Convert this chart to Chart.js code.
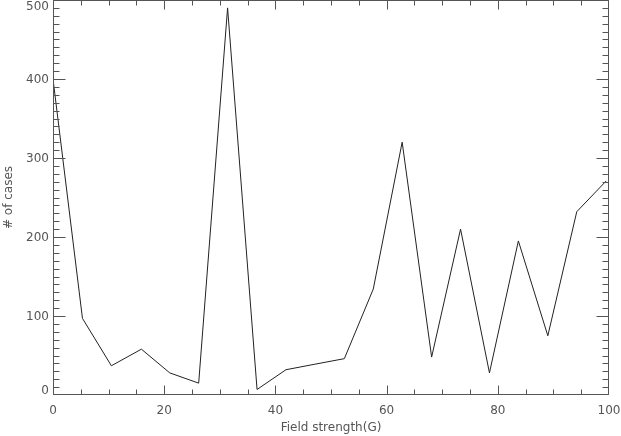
<!DOCTYPE html>
<html>
<head>
<meta charset="utf-8">
<script src="https://cdn.jsdelivr.net/npm/chart.js@4"></script>
<style>
  html, body { margin: 0; padding: 0; background: #fff; }
  canvas { display: block; }
</style>
</head>
<body>
<canvas id="myChart" width="621" height="436"></canvas>
<script>
// values
var fieldStrength = [0, 5.3, 10.5, 15.9, 21.0, 26.2, 31.4, 36.7, 41.9, 47.1, 52.4, 57.6, 62.8, 68.1, 73.3, 78.5, 83.7, 89.0, 94.2, 99.5];
var cases = [400, 97, 37, 58, 28, 15, 490, 7, 32, 39, 46, 134, 320, 48, 210, 28, 195, 75, 232, 271];

var xTickLabels = [0, 20, 40, 60, 80, 100];
var yTickLabels = [0, 100, 200, 300, 400, 500];
var xMinorStep = 5;
var yMinorStep = 10;

var points = [];
for (var i = 0; i < fieldStrength.length; i++) {
    points.push({ x: fieldStrength[i], y: cases[i] });
}

var axisColor = '#555';
var textColor = '#555';
var fontFamily = '"DejaVu Sans", sans-serif';

// IDL style frame: box with inward ticks on all four sides, y labels drawn here
var idlFrame = {
    id: 'idlFrame',
    afterDraw: function (chart) {
        var ctx = chart.ctx;
        var a = chart.chartArea;
        var xs = chart.scales.x, ys = chart.scales.y;
        var L = Math.round(a.left) + 0.5, R = Math.round(a.right) - 0.5;
        var T = Math.round(a.top) + 0.5, B = Math.round(a.bottom) - 0.5;
        ctx.save();
        ctx.strokeStyle = axisColor;
        ctx.lineWidth = 1;
        ctx.beginPath();
        ctx.rect(L, T, R - L, B - T);

        var v, p, len;
        for (v = xs.min; v <= xs.max + 1e-9; v += xMinorStep) {
            p = Math.round(xs.getPixelForValue(v)) + 0.5;
            p = Math.min(R, p);
            len = xTickLabels.indexOf(v) >= 0 ? 9 : 5;
            ctx.moveTo(p, B); ctx.lineTo(p, B - len);
            ctx.moveTo(p, T); ctx.lineTo(p, T + len);
        }
        for (v = ys.min; v <= ys.max + 1e-9; v += yMinorStep) {
            p = Math.round(ys.getPixelForValue(v)) + 0.5;
            p = Math.max(T, Math.min(B, p));
            len = yTickLabels.indexOf(v) >= 0 ? 12 : 6;
            ctx.moveTo(L, p); ctx.lineTo(L + len, p);
            ctx.moveTo(R, p); ctx.lineTo(R - len, p);
        }
        ctx.stroke();

        ctx.fillStyle = textColor;
        ctx.font = '12px ' + fontFamily;
        ctx.textAlign = 'right';
        ctx.textBaseline = 'middle';
        yTickLabels.forEach(function (t) {
            var py = ys.getPixelForValue(t) + 1;
            py = Math.max(a.top + 7, Math.min(a.bottom - 4, py));
            ctx.fillText(String(t), a.left - 4, py);
        });
        ctx.restore();
    }
};

var ctx = document.getElementById('myChart');

var chartGraph = new Chart(ctx, {
    type: 'line',
    data: {
        datasets: [{
            data: points,
            borderColor: '#222',
            borderWidth: 1,
            pointRadius: 0,
            tension: 0,
            fill: false
        }]
    },
    options: {
        responsive: false,
        animation: false,
        events: [],
        layout: { padding: { top: 0, right: 12, left: 0, bottom: 0 } },
        plugins: {
            legend: { display: false },
            tooltip: { enabled: false }
        },
        scales: {
            x: {
                type: 'linear',
                min: 0,
                max: 100,
                border: { display: false },
                // grid hidden, tickLength only used to push the labels down
                grid: { display: false, drawTicks: true, tickLength: 9 },
                ticks: {
                    stepSize: 20,
                    maxRotation: 0,
                    autoSkip: false,
                    padding: 0,
                    color: textColor,
                    font: { family: fontFamily, size: 12 }
                },
                title: {
                    display: true,
                    text: 'Field strength(G)',
                    color: textColor,
                    font: { family: fontFamily, size: 12 },
                    padding: { top: 0, bottom: 1 }
                },
                afterFit: function (scale) { scale.height = 41; }
            },
            y: {
                min: 0,
                max: 500,
                border: { display: false },
                grid: { display: false, drawTicks: false },
                ticks: { display: false, stepSize: 100 },
                title: {
                    display: true,
                    text: '# of cases',
                    color: textColor,
                    font: { family: fontFamily, size: 12 },
                    padding: { top: 2, bottom: 0 }
                },
                afterFit: function (scale) { scale.width = 53; }
            }
        }
    },
    plugins: [idlFrame]
});
</script>
</body>
</html>
